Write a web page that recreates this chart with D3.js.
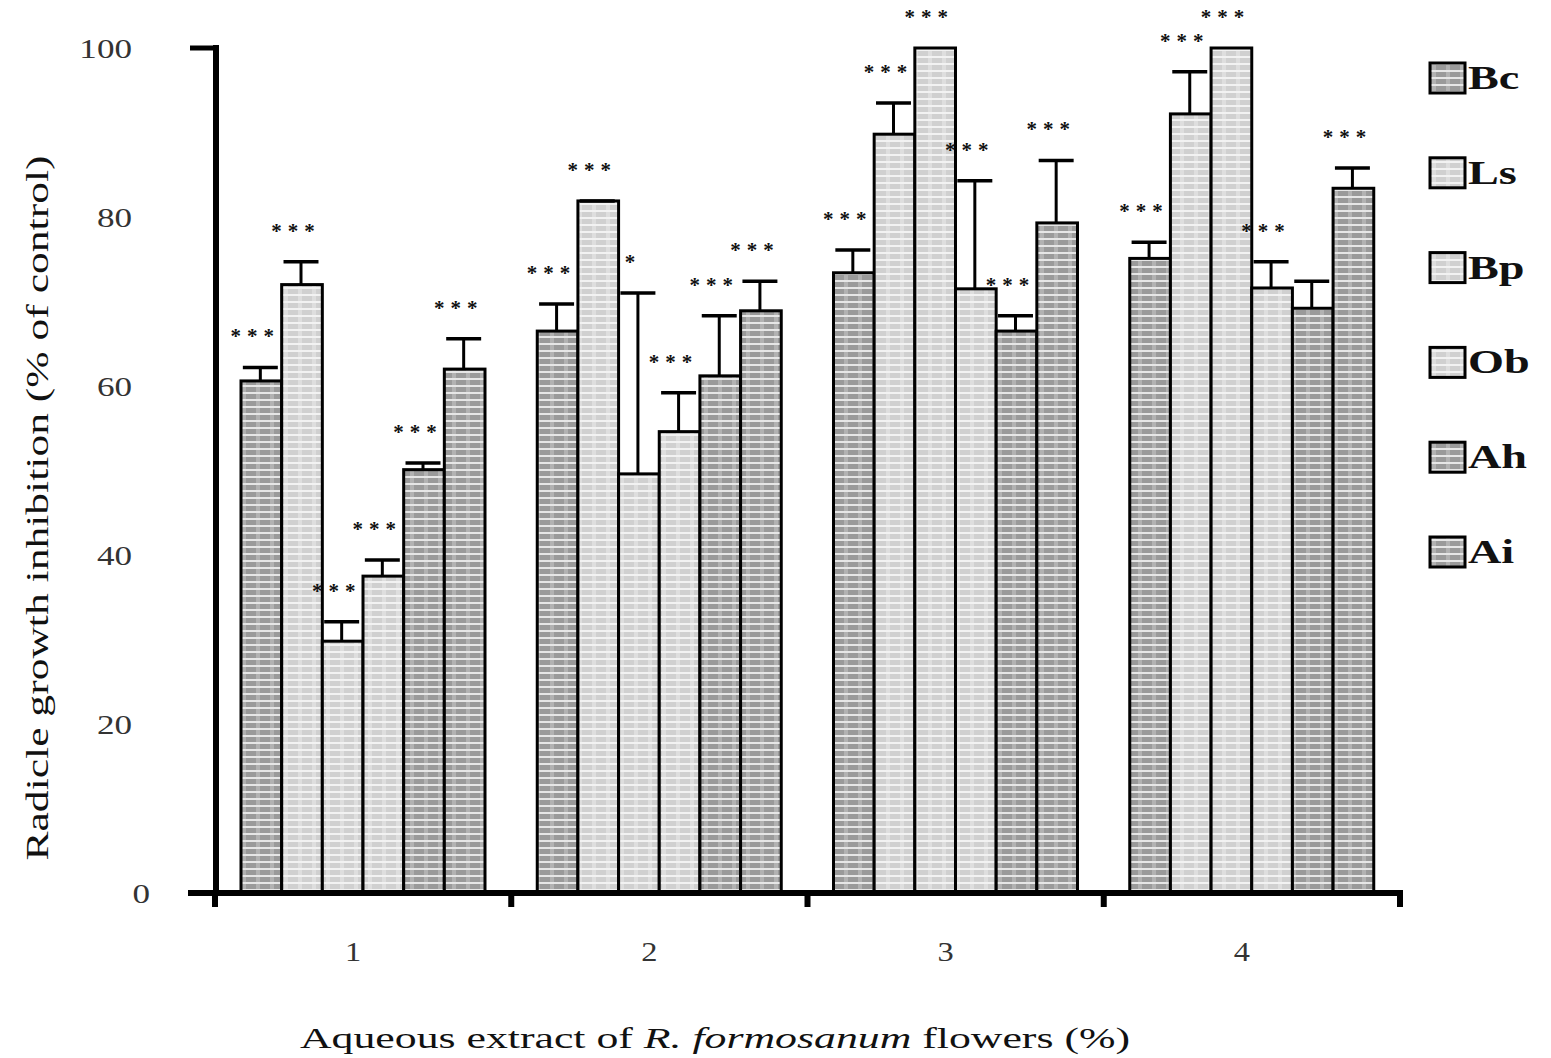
<!DOCTYPE html>
<html>
<head>
<meta charset="utf-8">
<script src="https://cdn.jsdelivr.net/npm/d3@7/dist/d3.min.js"></script>
<style>
  html, body { margin: 0; padding: 0; background: #fff; }
  svg { display: block; }
  text { font-family: "Liberation Serif", "DejaVu Serif", serif; }
</style>
</head>
<body>
<svg id="chart" width="1551" height="1058"></svg>
<script>
// ---- data ----
const categories = ["1", "2", "3", "4"];
const series = ["Bc", "Ls", "Bp", "Ob", "Ah", "Ai"];
const yTicks = [0, 20, 40, 60, 80, 100];

const valBc = [60.6, 66.5, 73.4, 75.1];
const valLs = [72.0, 81.9, 89.8, 92.2];
const valBp = [29.8, 49.6, 100, 100];
const valOb = [37.5, 54.6, 71.5, 71.6];
const valAh = [50.1, 61.2, 66.5, 69.2];
const valAi = [62.0, 68.9, 79.3, 83.4];

const errBc = [1.6, 3.2, 2.7, 1.9];
const errLs = [2.7, 0, 3.7, 5.0];
const errBp = [2.3, 21.4, 0, 0];
const errOb = [1.9, 4.6, 12.8, 3.1];
const errAh = [0.8, 7.1, 1.8, 3.2];
const errAi = [3.6, 3.5, 7.4, 2.4];

const sigBc = ["***", "***", "***", "***"];
const sigLs = ["***", "***", "***", "***"];
const sigBp = ["***", "*", "***", "***"];
const sigOb = ["***", "***", "***", "***"];
const sigAh = ["***", "***", "***", ""];
const sigAi = ["***", "***", "***", "***"];

const shade = ["dark", "light", "light", "light", "dark", "dark"];

const xTitlePre = "Aqueous extract of ";
const xTitleIt = "R. formosanum";
const xTitlePost = " flowers (%)";
const yTitle = "Radicle growth inhibition (% of control)";

// ---- build table ----
const vals = { Bc: valBc, Ls: valLs, Bp: valBp, Ob: valOb, Ah: valAh, Ai: valAi };
const errs = { Bc: errBc, Ls: errLs, Bp: errBp, Ob: errOb, Ah: errAh, Ai: errAi };
const sigs = { Bc: sigBc, Ls: sigLs, Bp: sigBp, Ob: sigOb, Ah: sigAh, Ai: sigAi };
const rows = [];
categories.forEach((c, ci) => {
  series.forEach((s, si) => {
    rows.push({ cat: c, ser: s, v: vals[s][ci], e: errs[s][ci], sig: sigs[s][ci], shade: shade[si] });
  });
});

const svg = d3.select("#chart");

// ---- patterns ----
const defs = svg.append("defs");
function makePattern(id, base, line, vline) {
  const p = defs.append("pattern").attr("id", id).attr("patternUnits", "userSpaceOnUse")
    .attr("width", 14).attr("height", 7);
  p.append("rect").attr("width", 14).attr("height", 7).attr("fill", base);
  p.append("rect").attr("x", 4).attr("width", 4).attr("height", 7).attr("fill", vline);
  p.append("rect").attr("y", 0).attr("width", 14).attr("height", 2).attr("fill", line);
}
makePattern("pat-dark", "#9a9a9a", "#e6e6e6", "#b2b2b2");
makePattern("pat-light", "#d0d0d0", "#f2f2f2", "#dedede");

// ---- scales ----
const x = d3.scaleBand().domain(categories).range([215, 1400]).paddingInner(0).paddingOuter(0);
const xs = d3.scaleBand().domain(series).range([26, 270]).padding(0);
const y = d3.scaleLinear().domain([0, 100]).range([893, 48]);

function stretch(sel, k) {
  sel.each(function () {
    const L = this.getComputedTextLength();
    d3.select(this).attr("textLength", L * k).attr("lengthAdjust", "spacingAndGlyphs");
  });
}

// ---- bars ----
const g = svg.append("g");
g.selectAll("rect.bar").data(rows).join("rect")
  .attr("class", "bar")
  .attr("x", d => x(d.cat) + xs(d.ser))
  .attr("y", d => y(d.v))
  .attr("width", xs.bandwidth())
  .attr("height", d => y(0) - y(d.v))
  .attr("fill", d => d.shade === "dark" ? "url(#pat-dark)" : "url(#pat-light)")
  .attr("stroke", "#000").attr("stroke-width", 3);

// ---- error bars ----
const eb = rows.filter(d => d.e > 0 || d.v < 100);
const capW = xs.bandwidth() * 0.86;
g.selectAll("line.stem").data(eb).join("line")
  .attr("x1", d => x(d.cat) + xs(d.ser) + xs.bandwidth() / 2 - 1)
  .attr("x2", d => x(d.cat) + xs(d.ser) + xs.bandwidth() / 2 - 1)
  .attr("y1", d => y(d.v)).attr("y2", d => y(d.v + d.e))
  .attr("stroke", "#000").attr("stroke-width", 3);
g.selectAll("line.cap").data(eb).join("line")
  .attr("x1", d => x(d.cat) + xs(d.ser) + xs.bandwidth() / 2 - capW / 2 - 1)
  .attr("x2", d => x(d.cat) + xs(d.ser) + xs.bandwidth() / 2 + capW / 2 - 1)
  .attr("y1", d => y(d.v + d.e)).attr("y2", d => y(d.v + d.e))
  .attr("stroke", "#000").attr("stroke-width", 3.5);

// ---- significance labels ----
g.selectAll("text.sig").data(rows.filter(d => d.sig)).join("text")
  .attr("class", "sig")
  .attr("x", d => x(d.cat) + xs(d.ser) + xs.bandwidth() / 2 - 6)
  .attr("y", d => y(d.v + d.e) - 35 + 11)
  .attr("text-anchor", "middle")
  .attr("font-size", 21)
  .attr("font-weight", "bold")
  .attr("letter-spacing", 6)
  .attr("fill", "#111")
  .text(d => d.sig);

// ---- axes ----
const xAxis = svg.append("g").attr("transform", `translate(-10,${y(0)})`)
  .call(d3.axisBottom(x).tickSize(0).tickFormat(d => d));
xAxis.select(".domain").remove();
xAxis.selectAll("text").attr("dy", 0).attr("y", 68)
  .attr("font-family", "Liberation Serif").attr("font-size", 27).attr("fill", "#333");
stretch(xAxis.selectAll("text"), 1.2);

svg.append("line").attr("x1", 188).attr("x2", 1403).attr("y1", y(0)).attr("y2", y(0))
  .attr("stroke", "#000").attr("stroke-width", 6);
const bounds = categories.map(c => x(c)).concat([x.range()[1]]);
svg.selectAll("line.xtick").data(bounds).join("line")
  .attr("x1", d => d).attr("x2", d => d)
  .attr("y1", y(0)).attr("y2", y(0) + 14)
  .attr("stroke", "#000").attr("stroke-width", 6);

const yAxis = svg.append("g").attr("transform", "translate(216,0)")
  .call(d3.axisLeft(y).tickValues(yTicks).tickSize(0).tickFormat(d3.format("d")));
yAxis.select(".domain").remove();
yAxis.selectAll("text").attr("x", d => d === 0 ? -66 : -84).attr("dy", "0.35em")
  .attr("font-family", "Liberation Serif").attr("font-size", 27).attr("fill", "#333");
stretch(yAxis.selectAll("text"), 1.3);

svg.append("line").attr("x1", 216).attr("x2", 216).attr("y1", y(100) - 3).attr("y2", y(0) + 3)
  .attr("stroke", "#000").attr("stroke-width", 6);
svg.append("line").attr("x1", 190).attr("x2", 219).attr("y1", y(100)).attr("y2", y(100))
  .attr("stroke", "#000").attr("stroke-width", 5);

// ---- titles ----
const xt = svg.append("text").attr("x", 715).attr("y", 1048).attr("text-anchor", "middle")
  .attr("font-size", 30).attr("fill", "#111");
xt.append("tspan").text(xTitlePre);
xt.append("tspan").attr("font-style", "italic").text(xTitleIt);
xt.append("tspan").text(xTitlePost);
xt.attr("textLength", 830).attr("lengthAdjust", "spacingAndGlyphs");

svg.append("text").attr("transform", "translate(48,508) rotate(-90)")
  .attr("text-anchor", "middle").attr("font-size", 31).attr("fill", "#111")
  .attr("textLength", 705).attr("lengthAdjust", "spacingAndGlyphs")
  .text(yTitle);

// ---- legend ----
const ly = d3.scalePoint().domain(series).range([63, 537]);
const leg = svg.append("g");
leg.selectAll("rect").data(series).join("rect")
  .attr("x", 1430).attr("y", d => ly(d)).attr("width", 35).attr("height", 30)
  .attr("fill", (d, i) => shade[i] === "dark" ? "url(#pat-dark)" : "url(#pat-light)")
  .attr("stroke", "#000").attr("stroke-width", 3);
const lt = leg.selectAll("text").data(series).join("text")
  .attr("x", 1468).attr("y", d => ly(d) + 26)
  .attr("font-size", 33).attr("font-weight", "bold").attr("fill", "#111")
  .text(d => d);
stretch(lt, 1.4);
</script>
</body>
</html>
